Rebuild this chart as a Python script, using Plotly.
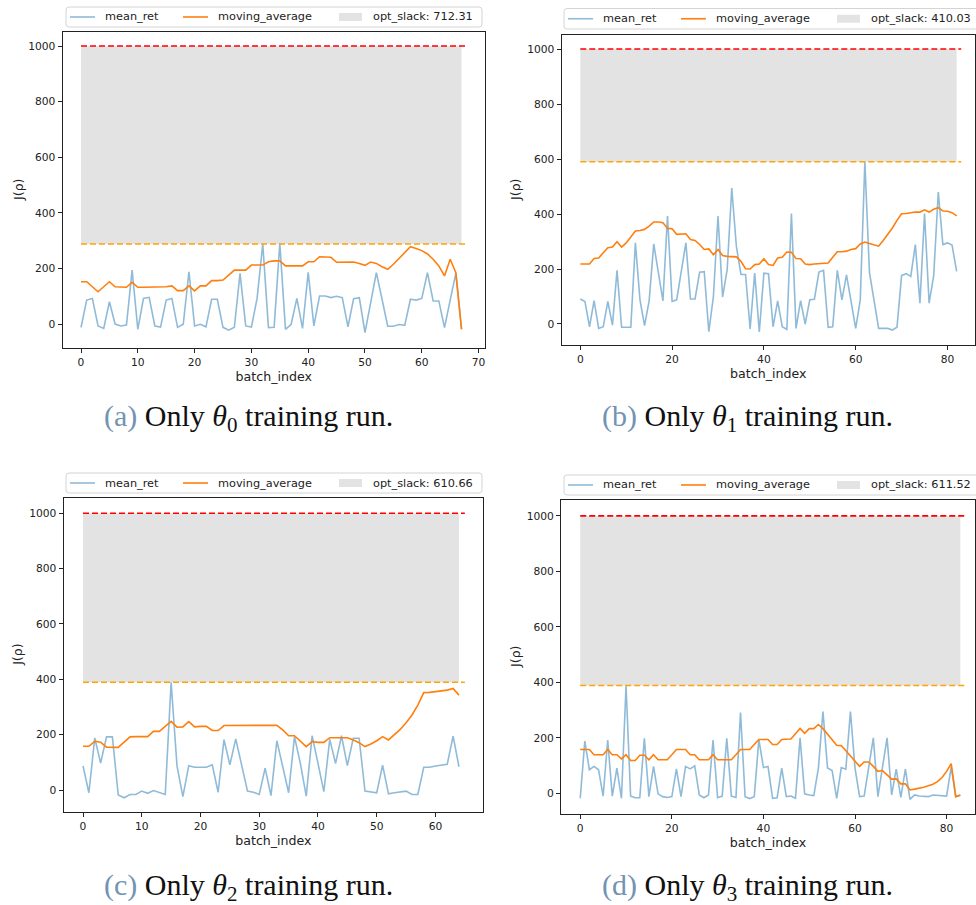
import plotly.graph_objects as go

# Target return J(rho) and per-run optimality slack
J_OPT = 1000.0

# ---- (a) only theta_0 trained ----
a_mean_ret = [-12, 86, 92, -7, -16, 80, 0, -7, -4, 194,
              -19, 92, 96, -7, -11, 86, 92, -12, -1, 188,
              -7, -1, -10, 89, 89, -12, -22, -12, 182, -7,
              -11, 92, 288, -13, -12, 290, -19, -1, 92, -16,
              186, -7, 101, 101, 95, 100, 95, -10, 91, 95,
              -31, 80, 185, 89, -8, -8, -2, -5, 89, 86,
              92, 185, 83, 83, -13, 86, 182, -19]
a_moving_average = [152, 152, 134, 116, 134, 152, 134, 132, 132, 150,
                    132, 132, 132, 134, 134, 134, 137, 120, 120, 137,
                    119, 137, 137, 156, 156, 158, 176, 194, 194, 194,
                    212, 212, 212, 224, 227, 227, 209, 209, 209, 209,
                    224, 224, 242, 242, 240, 222, 222, 224, 223, 218,
                    211, 223, 218, 206, 197, 215, 236, 257, 278, 272,
                    264, 252, 233, 209, 173, 233, 185, -19]
a_opt_slack = 712.31

# ---- (b) only theta_1 trained ----
b_mean_ret = [91, 82, -10, 85, -16, -10, 82, -4, 195, -12,
              -12, -12, 295, 88, -6, 85, 291, 185, 84, 393,
              82, 88, 185, 295, 91, 91, 188, 190, -28, 100,
              393, 98, 198, 494, 283, 180, 180, -18, 185, -29,
              185, 183, -10, 84, -10, -20, 402, -16, 85, 0,
              88, 90, 189, 195, -12, -10, 195, 88, 179, 88,
              -16, 88, 590, 188, 88, -16, -16, -16, -22, -12,
              176, 183, 173, 289, 76, 402, 76, 176, 480, 289,
              295, 287, 191]
b_moving_average = [218, 218, 218, 238, 240, 259, 277, 280, 299, 280,
                    295, 316, 338, 340, 344, 356, 371, 371, 368, 348,
                    346, 326, 328, 328, 307, 304, 289, 271, 273, 252,
                    271, 249, 246, 246, 244, 228, 201, 200, 216, 218,
                    237, 216, 213, 240, 243, 262, 261, 238, 237, 218,
                    216, 218, 220, 220, 222, 243, 263, 263, 265, 271,
                    274, 291, 298, 293, 287, 283, 304, 326, 349, 377,
                    401, 402, 405, 407, 407, 415, 407, 417, 423, 411,
                    410, 405, 393]
b_opt_slack = 410.03

# ---- (c) only theta_2 trained ----
c_mean_ret = [87, -10, 188, 97, 192, 192, -18, -28, -16, -16,
              -4, -12, -2, -8, -16, 389, 87, -24, 88, 82,
              82, 82, 91, -8, 182, 91, 185, 91, -4, -8,
              -16, 79, -20, 178, 84, -10, 193, 96, -22, 196,
              96, -6, 183, 96, 196, 88, 187, 187, -4, -6,
              -10, 90, -14, -10, -7, -4, -16, -16, 82, 82,
              87, 90, 93, 195, 84]
c_moving_average = [158, 158, 176, 173, 155, 154, 154, 173, 192, 193,
                    193, 193, 212, 212, 230, 248, 227, 228, 247, 228,
                    230, 230, 215, 215, 233, 233, 233, 233, 234, 234,
                    234, 235, 235, 234, 217, 196, 196, 175, 157, 175,
                    172, 172, 189, 189, 190, 189, 181, 171, 157, 166,
                    178, 193, 181, 199, 219, 243, 271, 307, 352, 353,
                    355, 359, 361, 367, 343]
c_opt_slack = 610.66

# ---- (d) only theta_3 trained ----
d_mean_ret = [-18, 188, 85, 97, 85, -10, 192, -10, 91, -18,
              388, -10, -16, -16, 198, -12, 97, -2, -12, -15,
              -12, 88, -12, 97, 88, 99, -6, -16, -6, 192,
              -16, -10, 198, -10, -15, 291, -12, -19, -12, 194,
              93, 97, -18, -16, 91, -12, -10, -18, 200, -2,
              -6, -8, 91, 295, 91, 82, -18, 93, 87, 295,
              91, -12, -10, 91, 200, -12, 97, 200, -6, 87,
              -15, 87, -22, -6, -10, -12, -12, -6, -8, -8,
              -10, 95, -12, -6]
d_moving_average = [158, 158, 158, 139, 139, 139, 158, 139, 139, 124,
                    139, 118, 118, 137, 137, 121, 139, 121, 121, 121,
                    139, 158, 158, 158, 139, 139, 121, 121, 121, 139,
                    121, 121, 121, 121, 139, 158, 158, 158, 176, 194,
                    194, 194, 176, 176, 194, 196, 196, 215, 234, 216,
                    233, 233, 248, 233, 212, 192, 173, 172, 154, 136,
                    115, 97, 113, 113, 97, 79, 82, 67, 51, 52,
                    34, 34, 12, 15, 18, 22, 27, 33, 42, 57,
                    79, 107, -12, -7]
d_opt_slack = 611.52

captions = ["(a)", "(b)", "(c)", "(d)"]
caption_params = ["0", "1", "2", "3"]

runs = [
    (a_mean_ret, a_moving_average, a_opt_slack),
    (b_mean_ret, b_moving_average, b_opt_slack),
    (c_mean_ret, c_moving_average, c_opt_slack),
    (d_mean_ret, d_moving_average, d_opt_slack),
]

W, H = 976, 905


def px_x(px):
    return px / W


def px_y(py):
    return 1 - py / H


# Subplot geometry in pixels: (left, right, top, bottom), x range, y range, x tick step
frames = [
    ((62.5, 485.0, 32.0, 348.0), [-3.26, 71.13], [-86.3, 1050.4], 10),
    ((561.5, 975.0, 35.0, 345.0), [-4.10, 86.0], [-76.4, 1051.0], 20),
    ((63.5, 483.3, 498.0, 811.7), [-3.32, 68.14], [-78.4, 1055.3], 10),
    ((561.0, 975.0, 500.0, 814.0), [-4.20, 86.2], [-74.6, 1057.3], 20),
]
# legend box (left, top, right, bottom) in pixels
legend_box = [(66, 7, 482, 27), (564, 8.5, 990, 29), (66, 473, 482, 493), (564, 475, 990, 495)]
ytitle_x = [18, 515, 18, 515]
caption_pos = [(248.5, 418), (747, 418), (248.5, 887), (747, 887)]

BLUE = "rgba(31,119,180,0.5)"
ORANGE = "#ff7f0e"
SLACK_FILL = "#e3e3e3"
FONT = "DejaVu Sans"
TXT = "#222"

fig = go.Figure()
layout = {}
annotations = []
shapes = []

for k, ((mean_ret, mov_avg, slack), (box, xr, yr, dx)) in enumerate(zip(runs, frames)):
    sfx = "" if k == 0 else str(k + 1)
    xa, ya = "x" + sfx, "y" + sfx
    n = len(mean_ret)
    idx = list(range(n))
    lower = J_OPT - slack
    slack_label = f"opt_slack: {slack:.2f}"

    fig.add_trace(go.Scatter(x=[0, n - 1, n - 1, 0, 0],
                             y=[lower, lower, J_OPT, J_OPT, lower],
                             mode="lines", fill="toself", fillcolor=SLACK_FILL,
                             line=dict(width=0, color=SLACK_FILL),
                             name=slack_label, showlegend=False, xaxis=xa, yaxis=ya))
    fig.add_trace(go.Scatter(x=idx, y=mean_ret, mode="lines", name="mean_ret",
                             line=dict(color=BLUE, width=1.6),
                             showlegend=False, xaxis=xa, yaxis=ya))
    fig.add_trace(go.Scatter(x=idx, y=mov_avg, mode="lines", name="moving_average",
                             line=dict(color=ORANGE, width=1.6),
                             showlegend=False, xaxis=xa, yaxis=ya))
    fig.add_trace(go.Scatter(x=[0, n], y=[J_OPT, J_OPT], mode="lines", name="optimum",
                             line=dict(color="#ff0000", width=1.6, dash="6px,3px"),
                             showlegend=False, xaxis=xa, yaxis=ya))
    fig.add_trace(go.Scatter(x=[0, n], y=[lower, lower], mode="lines", name="achieved",
                             line=dict(color="#ffa500", width=1.6, dash="6px,3px"),
                             showlegend=False, xaxis=xa, yaxis=ya))

    left, right, top, bottom = box
    axis_common = dict(showline=True, linecolor=TXT, linewidth=1, mirror=True,
                       ticks="outside", ticklen=4, tickcolor=TXT, showgrid=False,
                       zeroline=False, tickfont=dict(family=FONT, size=10.7, color=TXT))
    layout["xaxis" + sfx] = dict(
        domain=[px_x(left), px_x(right)], range=xr, anchor=ya, tick0=0, dtick=dx,
        title=dict(text="batch_index", font=dict(family=FONT, size=12.6, color=TXT),
                   standoff=3),
        **axis_common)
    layout["yaxis" + sfx] = dict(
        domain=[px_y(bottom), px_y(top)], range=yr, anchor=xa, tick0=0, dtick=200,
        **axis_common)

    # y-axis title
    annotations.append(dict(x=px_x(ytitle_x[k]), y=px_y((top + bottom) / 2),
                            xref="paper", yref="paper", showarrow=False, textangle=-90,
                            xanchor="center", yanchor="middle", text="J(ρ)",
                            font=dict(family=FONT, size=12.6, color=TXT)))

    # legend frame above the axes
    L, T, R, B = legend_box[k]
    r = 3
    path = (f"M {px_x(L + r)},{px_y(T)} L {px_x(R - r)},{px_y(T)} "
            f"Q {px_x(R)},{px_y(T)} {px_x(R)},{px_y(T + r)} "
            f"L {px_x(R)},{px_y(B - r)} Q {px_x(R)},{px_y(B)} {px_x(R - r)},{px_y(B)} "
            f"L {px_x(L + r)},{px_y(B)} Q {px_x(L)},{px_y(B)} {px_x(L)},{px_y(B - r)} "
            f"L {px_x(L)},{px_y(T + r)} Q {px_x(L)},{px_y(T)} {px_x(L + r)},{px_y(T)} Z")
    shapes.append(dict(type="path", xref="paper", yref="paper", path=path,
                       line=dict(color="#d4d4d4", width=1), fillcolor="white"))
    cy = (T + B) / 2
    entries = [
        ("line", BLUE, L + 4, L + 29, L + 38, "mean_ret"),
        ("line", ORANGE, L + 117, L + 142, L + 151, "moving_average"),
        ("patch", SLACK_FILL, L + 273, L + 296, L + 306, slack_label),
    ]
    for kind, col, x0, x1, tx, label in entries:
        if kind == "line":
            shapes.append(dict(type="line", xref="paper", yref="paper",
                               x0=px_x(x0), x1=px_x(x1), y0=px_y(cy), y1=px_y(cy),
                               line=dict(color=col, width=1.6)))
        else:
            shapes.append(dict(type="rect", xref="paper", yref="paper",
                               x0=px_x(x0), x1=px_x(x1), y0=px_y(cy - 4), y1=px_y(cy + 4),
                               fillcolor=col, line=dict(width=0)))
        annotations.append(dict(x=px_x(tx), y=px_y(cy), xref="paper", yref="paper",
                                showarrow=False, xanchor="left", yanchor="middle",
                                borderpad=0, text=label,
                                font=dict(family=FONT, size=11.3, color=TXT)))

for k in range(4):
    cx, cy = caption_pos[k]
    annotations.append(dict(
        x=px_x(cx), y=px_y(cy), xref="paper", yref="paper", showarrow=False,
        xanchor="center", yanchor="middle",
        text=(f"<span style='color:#7393b3'>{captions[k]}</span> Only "
              f"<i>θ</i><sub>{caption_params[k]}</sub> training run."),
        font=dict(family="Liberation Serif", size=30, color="#111")))

fig.update_layout(width=W, height=H, margin=dict(l=0, r=0, t=0, b=0),
                  paper_bgcolor="white", plot_bgcolor="white", showlegend=False,
                  annotations=annotations, shapes=shapes, **layout)

fig.write_html("out.html")
